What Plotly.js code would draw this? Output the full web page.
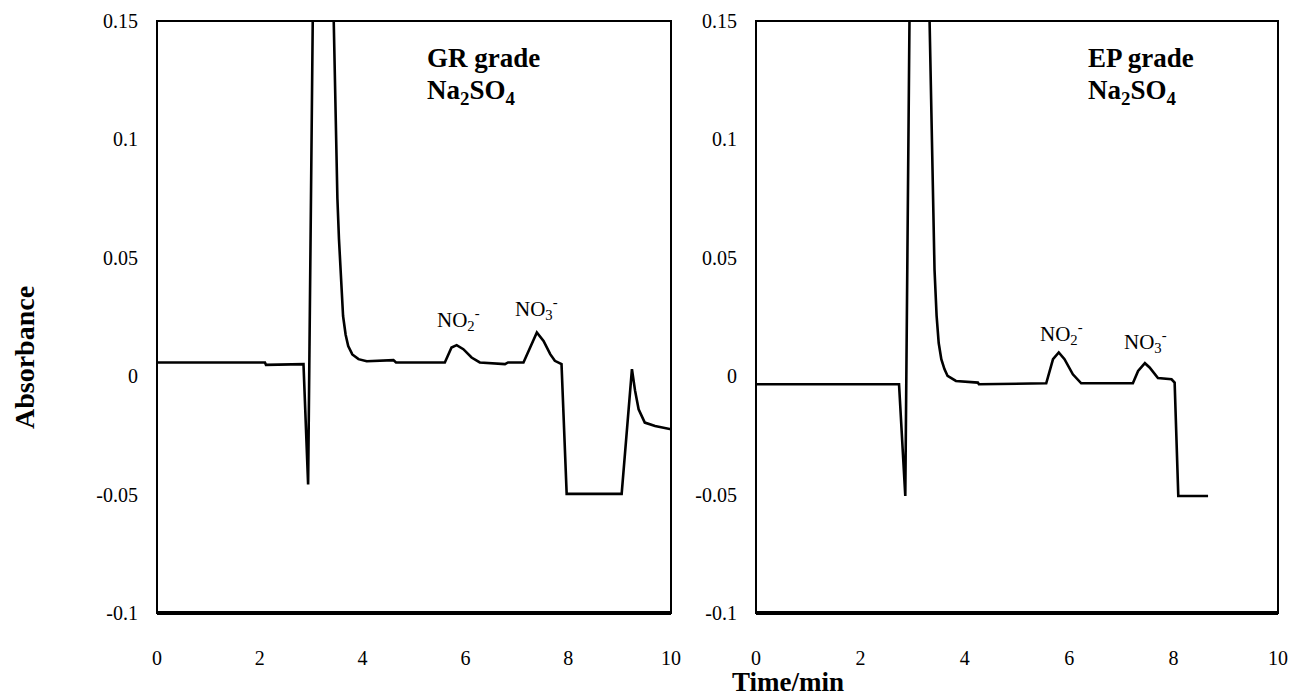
<!DOCTYPE html>
<html>
<head>
<meta charset="utf-8">
<script src="https://cdn.plot.ly/plotly-3.0.1.min.js"></script>
<style>
  html, body { margin: 0; padding: 0; background: #fff; }
  #chart { width: 1296px; height: 698px; }
</style>
</head>
<body>
<div id="chart"></div>
<script>
// GR grade Na2SO4 chromatogram (time in min, absorbance)
const grTime = [0, 2.1, 2.12, 2.85, 2.94, 3.03, 3.2, 3.44, 3.48, 3.51, 3.54, 3.58, 3.62, 3.67,
  3.72, 3.8, 3.92, 4.08, 4.6, 4.65, 5.6, 5.73, 5.83, 5.96, 6.12, 6.28, 6.77, 6.83, 7.13, 7.26,
  7.39, 7.52, 7.65, 7.74, 7.87, 7.97, 9.04, 9.24, 9.3, 9.37, 9.49, 9.69, 10.0];
const grAbs = [0.0058, 0.0058, 0.0048, 0.0051, -0.0457, 0.150, 0.40, 0.150, 0.100, 0.0749,
  0.058, 0.040, 0.0254, 0.0175, 0.0127, 0.0092, 0.0072, 0.0063, 0.0068, 0.0058, 0.0058,
  0.0121, 0.0131, 0.0114, 0.0079, 0.0058, 0.0051, 0.0058, 0.0058, 0.0121, 0.0185, 0.0149,
  0.0093, 0.0065, 0.0051, -0.0497, -0.0497, 0.003, -0.006, -0.014, -0.0196, -0.021, -0.0224];

// EP grade Na2SO4 chromatogram
const epTime = [0, 2.74, 2.86, 2.94, 3.1, 3.32, 3.35, 3.38, 3.42, 3.46, 3.5, 3.55, 3.61, 3.67,
  3.83, 4.25, 4.27, 5.56, 5.69, 5.80, 5.91, 6.07, 6.23, 7.22, 7.32, 7.45, 7.54, 7.70, 7.96,
  8.02, 8.09, 8.66];
const epAbs = [-0.0034, -0.0034, -0.0506, 0.150, 0.40, 0.150, 0.110, 0.0749, 0.045, 0.0255,
  0.014, 0.0072, 0.003, 0.0001, -0.002, -0.0027, -0.0034, -0.003, 0.0072, 0.0100, 0.0072,
  0.0008, -0.003, -0.003, 0.0022, 0.0055, 0.0037, -0.0008, -0.0013, -0.0027, -0.0506, -0.0506];

const xTicks = [0, 2, 4, 6, 8, 10];
const yTicks = [-0.1, -0.05, 0, 0.05, 0.1, 0.15];
const yTickText = ['-0.1', '-0.05', '0', '0.05', '0.1', '0.15'];

// peak labels: [x, y] of the label centres
const grNO2 = [5.86, 0.024], grNO3 = [7.38, 0.0288];
const epNO2 = [5.85, 0.018], epNO3 = [7.46, 0.0146];

const serif = 'Liberation Serif';
const tickFont = { family: serif, size: 20, color: '#000' };

const traceStyle = { mode: 'lines', line: { color: '#000', width: 2.6 }, hoverinfo: 'skip', showlegend: false };

const data = [
  Object.assign({ x: grTime, y: grAbs, xaxis: 'x', yaxis: 'y', type: 'scatter' }, traceStyle),
  Object.assign({ x: epTime, y: epAbs, xaxis: 'x2', yaxis: 'y2', type: 'scatter' }, traceStyle)
];

const yDomain = [1 - 613 / 698, 1 - 21 / 698];

// invisible outside ticks push the labels away from the frame
function xAxis(domain, anchor) {
  return {
    domain: domain, anchor: anchor, range: [0, 10], tickvals: xTicks,
    showgrid: false, zeroline: false, showline: false,
    ticks: 'outside', ticklen: 27, tickcolor: 'rgba(0,0,0,0)',
    tickfont: tickFont, automargin: false, fixedrange: true
  };
}
function yAxis(anchor) {
  return {
    domain: yDomain, anchor: anchor, range: [-0.1, 0.15], tickvals: yTicks, ticktext: yTickText,
    showgrid: false, zeroline: false, showline: false,
    ticks: 'outside', ticklen: 14, tickcolor: 'rgba(0,0,0,0)',
    tickfont: tickFont, automargin: false, fixedrange: true
  };
}

function frame(xr, yr) {
  return [
    { type: 'rect', xref: xr + ' domain', yref: yr + ' domain', x0: 0, x1: 1, y0: 0, y1: 1,
      line: { color: '#000', width: 2 } },
    { type: 'line', xref: xr + ' domain', yref: yr + ' domain', x0: 0, x1: 1, y0: 0, y1: 0,
      line: { color: '#000', width: 4 } }
  ];
}

const ionFont = { family: serif, size: 21, color: '#000' };
const headFont = { family: serif, size: 27, color: '#000' };

function ion(text, pos, xr, yr) {
  return { text: text, x: pos[0], y: pos[1], xref: xr, yref: yr, showarrow: false,
    font: ionFont, xanchor: 'center', yanchor: 'middle' };
}
function head(text, px, py) {
  return { text: text, x: px / 1296, y: 1 - py / 698, xref: 'paper', yref: 'paper',
    showarrow: false, font: headFont, xanchor: 'left', yanchor: 'middle', align: 'left' };
}

const layout = {
  width: 1296, height: 698,
  margin: { l: 0, r: 0, t: 0, b: 0 },
  font: { family: serif, size: 20, color: '#000' },
  paper_bgcolor: '#fff', plot_bgcolor: '#fff',
  showlegend: false,
  xaxis: xAxis([157 / 1296, 671 / 1296], 'y'),
  yaxis: yAxis('x'),
  xaxis2: xAxis([756 / 1296, 1278 / 1296], 'y2'),
  yaxis2: yAxis('x2'),
  shapes: frame('x', 'y').concat(frame('x2', 'y2')),
  annotations: [
    head('<b>GR grade</b>', 425, 58),
    head('<b>Na<sub>2</sub>SO<sub>4</sub></b>', 425, 92),
    head('<b>EP grade</b>', 1086, 58),
    head('<b>Na<sub>2</sub>SO<sub>4</sub></b>', 1086, 92),
    ion('NO<sub>2</sub><sup>-</sup>', grNO2, 'x', 'y'),
    ion('NO<sub>3</sub><sup>-</sup>', grNO3, 'x', 'y'),
    ion('NO<sub>2</sub><sup>-</sup>', epNO2, 'x2', 'y2'),
    ion('NO<sub>3</sub><sup>-</sup>', epNO3, 'x2', 'y2'),
    { text: '<b>Absorbance</b>', x: 24 / 1296, y: 1 - 358 / 698, xref: 'paper', yref: 'paper',
      showarrow: false, textangle: -90, font: { family: serif, size: 28, color: '#000' },
      xanchor: 'center', yanchor: 'middle' },
    { text: '<b>Time/min</b>', x: 788 / 1296, y: 0, xref: 'paper', yref: 'paper',
      showarrow: false, font: { family: serif, size: 27, color: '#000' },
      xanchor: 'center', yanchor: 'bottom', borderpad: 0 }
  ]
};

Plotly.newPlot('chart', data, layout, { displayModeBar: false, staticPlot: true });
</script>
</body>
</html>
